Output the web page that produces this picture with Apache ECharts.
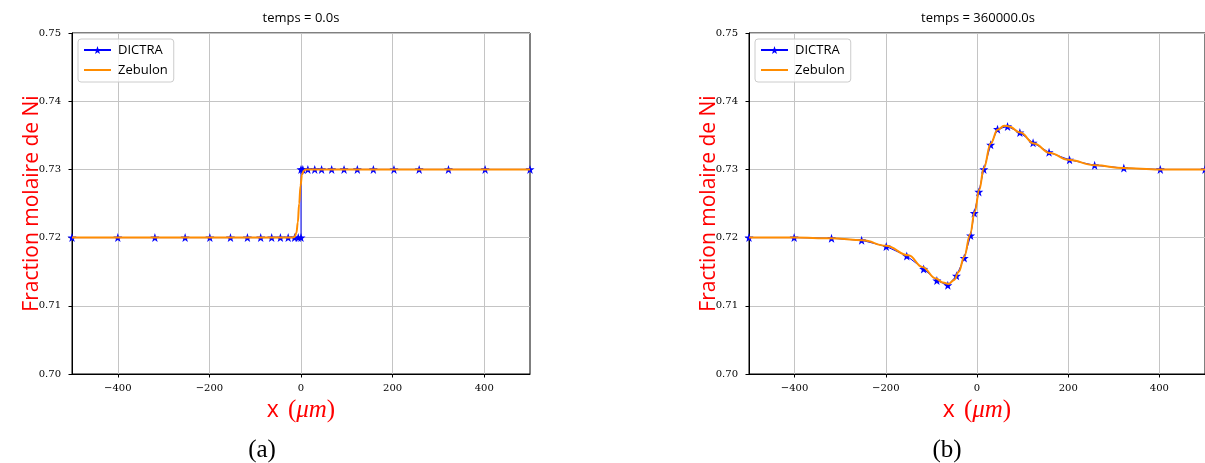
<!DOCTYPE html>
<html>
<head>
<meta charset="utf-8">
<script src="https://cdn.jsdelivr.net/npm/echarts@6/dist/echarts.min.js"></script>
<style>
html,body{margin:0;padding:0;background:#fff;}
#chart{width:1205px;height:463px;}
</style>
</head>
<body>
<div id="chart"></div>
<script>
// ---- tick labels ----
const xTicks = [-400, -200, 0, 200, 400];
const yTicks = [0.70, 0.71, 0.72, 0.73, 0.74, 0.75];
const titles = ['temps = 0.0s', 'temps = 360000.0s'];
const captions = ['(a)', '(b)'];
const seriesNames = ['DICTRA', 'Zebulon'];

// ---- (a) t = 0 s ----
const dictraX0 = [-500, -400, -319, -253, -199, -154, -117, -88, -64, -45, -28, -14, -6, 0, 0, 4, 15, 30, 45, 67, 94, 123, 158, 203, 258, 322, 402, 500];
const dictraY0 = [0.72, 0.72, 0.72, 0.72, 0.72, 0.72, 0.72, 0.72, 0.72, 0.72, 0.72, 0.72, 0.72, 0.72, 0.73, 0.73, 0.73, 0.73, 0.73, 0.73, 0.73, 0.73, 0.73, 0.73, 0.73, 0.73, 0.73, 0.73];
const zebX0 = [-500, -100, -20, -14, -10, -7, -4, -1, 2, 6, 10, 100, 500];
const zebY0 = [0.72, 0.72, 0.72, 0.7201, 0.7207, 0.7222, 0.7250, 0.7276, 0.7292, 0.7298, 0.73, 0.73, 0.73];

// ---- (b) t = 360000 s ----
const dictraX1 = [-500, -401, -319, -253, -199, -154, -117, -88, -64, -45, -28, -14, -6, 4, 15, 30, 45, 67, 94, 123, 158, 203, 258, 322, 402, 500];
const dictraY1 = [0.7200, 0.7200, 0.7199, 0.7196, 0.7187, 0.7173, 0.7154, 0.7137, 0.7130, 0.7144, 0.7170, 0.7203, 0.7236, 0.7267, 0.7300, 0.7336, 0.7359, 0.7363, 0.7354, 0.7339, 0.7325, 0.7314, 0.7306, 0.7302, 0.7300, 0.7300];
const zebX1 = [-500, -400, -320, -250, -200, -150, -120, -90, -75, -62, -50, -40, -28, -15, -5, 5, 15, 30, 45, 60, 70, 95, 125, 160, 200, 260, 320, 400, 500];
const zebY1 = [0.7200, 0.7200, 0.7199, 0.7196, 0.7188, 0.7174, 0.7157, 0.7140, 0.7134, 0.7132, 0.7138, 0.7150, 0.7172, 0.7205, 0.7238, 0.7270, 0.7302, 0.7338, 0.7358, 0.7364, 0.7363, 0.7354, 0.7338, 0.7324, 0.7314, 0.7306, 0.7302, 0.7300, 0.7300];

const STAR = 'path://M0,-10 L2.35,-3.24 L9.51,-3.09 L3.8,1.24 L5.88,8.09 L0,4 L-5.88,8.09 L-3.8,1.24 L-9.51,-3.09 L-2.35,-3.24 Z';
const BLUE = '#0000ff';
const ORANGE = '#ff8c00';
const SANS = '"Open Sans", "DejaVu Sans", sans-serif';
const SERIF = '"DejaVu Serif", serif';
const MATH = '"Liberation Serif", serif';

function zip(xs, ys) { return xs.map((x, i) => [x, ys[i]]); }

const grids = [
  { left: 72, top: 33, width: 458, height: 341 },
  { left: 749, top: 33, width: 458, height: 341 }
];
const centers = [301, 978];

function xAxis(i) {
  return {
    type: 'value', gridIndex: i, min: -500, max: 500,
    name: '{s|x}{g| }{p|(}{i|μm}{p|)}',
    nameLocation: 'middle', nameGap: 24,
    nameTextStyle: {
      color: '#ff0000',
      rich: {
        s: { fontFamily: SANS, fontSize: 23, color: '#ff0000' },
        g: { fontFamily: SANS, fontSize: 23, color: '#ff0000', width: 9 },
        p: { fontFamily: MATH, fontSize: 25, color: '#ff0000' },
        i: { fontFamily: MATH, fontStyle: 'italic', fontSize: 25, color: '#ff0000' }
      }
    },
    axisLine: { show: true, onZero: false, lineStyle: { color: '#000', width: 1 } },
    axisTick: { show: true, customValues: xTicks, length: 3.5, lineStyle: { color: '#000', width: 1 } },
    axisLabel: {
      customValues: xTicks, margin: 9, color: '#000', fontFamily: SERIF, fontSize: 10,
      formatter: v => String(v).replace('-', '\u2212')
    },
    splitLine: { show: true, lineStyle: { color: '#c4c4c4', width: 1 } }
  };
}
function yAxis(i) {
  return {
    type: 'value', gridIndex: i, min: 0.70, max: 0.75,
    name: 'Fraction molaire de Ni',
    nameLocation: 'middle', nameGap: 29, nameRotate: 90, nameMoveOverlap: false,
    nameTextStyle: { color: '#ff0000', fontFamily: SANS, fontSize: 21 },
    axisLine: { show: true, onZero: false, lineStyle: { color: '#000', width: 1 } },
    axisTick: { show: true, customValues: yTicks, length: 3.5, lineStyle: { color: '#000', width: 1 } },
    axisLabel: {
      customValues: yTicks, margin: 11, color: '#000', fontFamily: SERIF, fontSize: 10,
      formatter: v => v.toFixed(2)
    },
    splitLine: { show: true, lineStyle: { color: '#c4c4c4', width: 1 } }
  };
}
function legend(i) {
  return {
    data: [
      { name: seriesNames[0] },
      { name: seriesNames[1], itemStyle: { opacity: 0 } }
    ],
    orient: 'vertical',
    left: grids[i].left + 6, top: 39,
    padding: [2, 6, 3, 5],
    itemGap: 2, itemWidth: 27, itemHeight: 10,
    backgroundColor: 'rgba(255,255,255,0.8)',
    borderColor: '#cccccc', borderWidth: 1, borderRadius: 3,
    textStyle: { fontFamily: SANS, fontSize: 13, color: '#000', padding: [0, 0, 0, 2], lineHeight: 18 },
    selectedMode: false
  };
}
function dictra(i, xs, ys) {
  return {
    name: 'DICTRA', type: 'line', xAxisIndex: i, yAxisIndex: i,
    data: zip(xs, ys),
    symbol: STAR, symbolSize: 9, showSymbol: true,
    lineStyle: { color: BLUE, width: 1 },
    itemStyle: { color: BLUE },
    animation: false, z: 2
  };
}
function zeb(i, xs, ys) {
  return {
    name: 'Zebulon', type: 'line', xAxisIndex: i, yAxisIndex: i,
    data: zip(xs, ys),
    symbol: 'none', smooth: 0.4, smoothMonotone: 'x',
    lineStyle: { color: ORANGE, width: 2 },
    itemStyle: { color: ORANGE },
    animation: false, z: 3
  };
}

const chart = echarts.init(document.getElementById('chart'), null, { renderer: 'canvas' });
const option = {
  backgroundColor: '#fff',
  animation: false,
  grid: grids.map(g => Object.assign({ show: true, borderColor: '#000', borderWidth: 1, backgroundColor: 'transparent' }, g)),
  xAxis: [xAxis(0), xAxis(1)],
  yAxis: [yAxis(0), yAxis(1)],
  legend: [legend(0), legend(1)],
  series: [
    dictra(0, dictraX0, dictraY0), zeb(0, zebX0, zebY0),
    dictra(1, dictraX1, dictraY1), zeb(1, zebX1, zebY1)
  ],
  graphic: [
    { type: 'text', x: centers[0], y: 18, style: { text: titles[0], font: '13px ' + SANS, fill: '#000', textAlign: 'center', textVerticalAlign: 'middle' } },
    { type: 'text', x: centers[1], y: 18, style: { text: titles[1], font: '13px ' + SANS, fill: '#000', textAlign: 'center', textVerticalAlign: 'middle' } },
    { type: 'text', x: 262, y: 450, style: { text: captions[0], font: '25px "Liberation Serif", serif', fill: '#000', textAlign: 'center', textVerticalAlign: 'middle' } },
    { type: 'text', x: 947, y: 450, style: { text: captions[1], font: '25px "Liberation Serif", serif', fill: '#000', textAlign: 'center', textVerticalAlign: 'middle' } }
  ]
};
chart.setOption(option);
</script>
</body>
</html>
